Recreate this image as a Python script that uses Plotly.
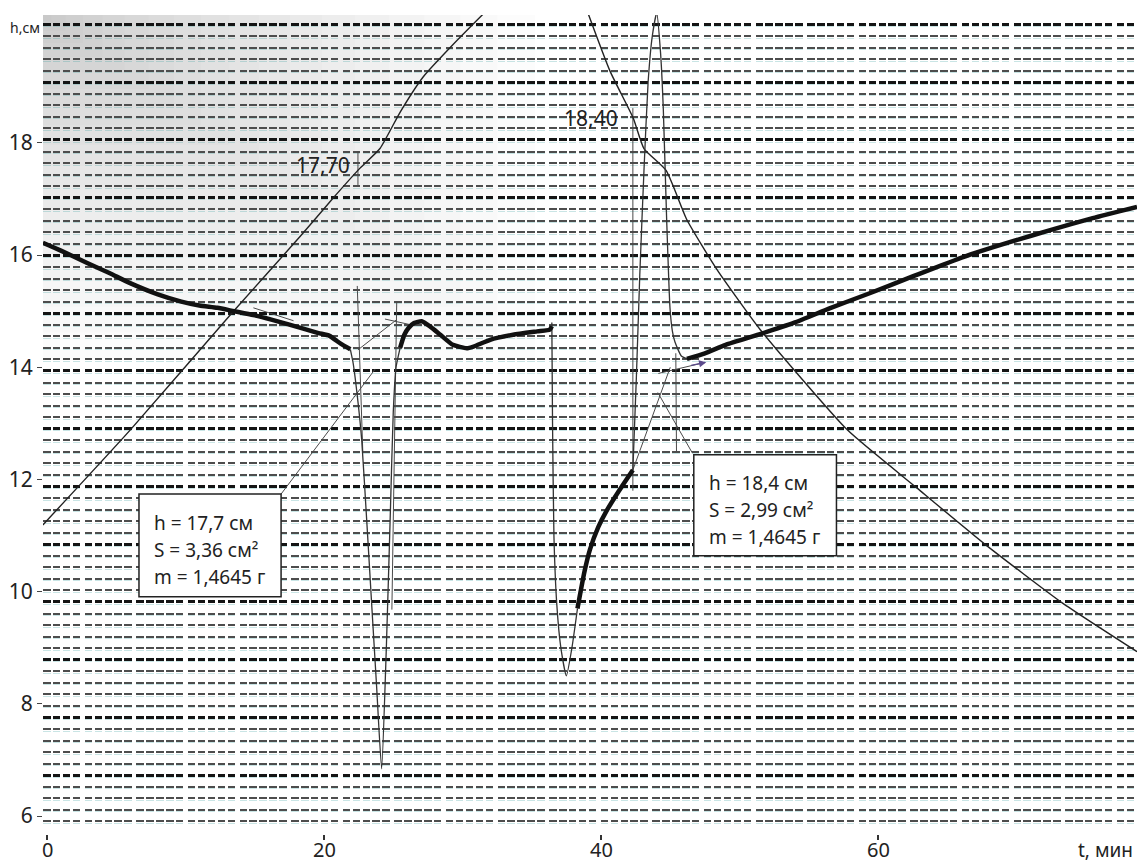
import plotly.graph_objects as go

# ---------------- data ----------------
# thick measured curve h(t), in four pieces
t_thick_1 = [-0.3, 1.0, 2.9, 4.5, 6.0, 8.0, 9.7, 11.0, 12.3, 13.5, 14.9, 16.2, 17.5, 18.5, 19.6, 20.4, 21.2, 21.9]
h_thick_1 = [16.22, 16.08, 15.86, 15.68, 15.50, 15.30, 15.17, 15.10, 15.06, 15.00, 14.93, 14.85, 14.76, 14.69, 14.61, 14.56, 14.42, 14.32]

t_thick_2 = [25.5, 25.8, 26.1, 26.5, 27.05, 27.65, 28.4, 29.3, 30.3, 30.8, 32.0, 33.65, 35.4, 36.3, 36.45]
h_thick_2 = [14.35, 14.58, 14.70, 14.79, 14.82, 14.73, 14.58, 14.40, 14.34, 14.37, 14.49, 14.58, 14.64, 14.67, 14.73]

t_thick_3 = [38.3, 38.8, 39.2, 39.8, 40.4, 41.3, 42.3]
h_thick_3 = [9.7, 10.35, 10.75, 11.15, 11.44, 11.80, 12.17]

t_thick_4 = [46.2, 47.5, 49.0, 51.6, 54.0, 56.5, 59.4, 62.5, 66.2, 69.5, 72.5, 75.5, 78.7]
h_thick_4 = [14.15, 14.25, 14.40, 14.60, 14.80, 15.05, 15.32, 15.62, 15.97, 16.23, 16.45, 16.66, 16.86]

# thin parts of the record (dips and spike)
t_dip_1 = [21.9, 22.1, 22.4, 22.72, 23.1, 23.44, 23.8, 24.16, 24.5, 24.8, 25.0, 25.2, 25.5]
h_dip_1 = [14.32, 14.08, 13.5, 12.71, 11.2, 9.78, 8.3, 6.84, 9.0, 11.5, 13.2, 14.0, 14.35]

t_dip_2 = [36.45, 36.5, 36.6, 36.8, 37.1, 37.5, 37.9, 38.3]
h_dip_2 = [14.80, 13.0, 11.0, 9.8, 9.0, 8.5, 9.0, 9.7]

t_spike = [42.3, 42.55, 42.8, 43.1, 43.4, 43.7, 44.02, 44.3, 44.5, 44.74, 44.98, 45.15, 45.34, 45.8, 46.2]
h_spike = [12.17, 13.8, 15.65, 17.5, 19.08, 19.9, 20.32, 19.6, 18.59, 16.63, 15.06, 14.65, 14.45, 14.2, 14.15]

# rising thin curve (reaches 17,70) and falling thin curve (reaches 18,40)
t_rise = [-0.3, 6.0, 13.4, 18.27, 20.6, 22.6, 24.04, 25.5, 27.17, 29.3, 31.5]
h_rise = [11.19, 12.88, 14.98, 16.33, 17.0, 17.55, 17.90, 18.55, 19.18, 19.75, 20.3]

t_fall = [39.08, 40.65, 42.33, 43.1, 44.7, 46.2, 48.35, 51.5, 57.8, 62.8, 67.8, 73.3, 78.7]
h_fall = [20.3, 19.28, 18.44, 17.9, 17.51, 16.63, 15.75, 14.67, 12.88, 11.85, 10.83, 9.80, 8.93]

# straight construction lines (pairs of end points)
guide_t = [[16.9, 23.7], [22.45, 25.25], [24.4, 26.4], [14.9, 17.8], [22.4, 22.8],
           [25.25, 24.9], [42.3, 42.3], [45.4, 45.45], [42.3, 45.0], [44.1, 46.6],
           [44.14, 47.4], [22.45, 22.45]]
guide_h = [[11.74, 13.97], [14.31, 14.85], [14.86, 14.75], [15.06, 14.83], [15.45, 12.5],
           [15.17, 9.68], [18.62, 11.8], [14.25, 12.5], [12.17, 14.0], [13.55, 12.47],
           [13.89, 14.08], [17.85, 17.25]]

x_ticks = [0, 20, 40, 60]
y_ticks = [6, 8, 10, 12, 14, 16, 18]

mark_labels = ["17,70", "18,40"]
mark_t = [19.9, 39.3]
mark_h = [17.6, 18.45]

box1_lines = ["h = 17,7 см", "S = 3,36 см²", "m = 1,4645 г"]
box2_lines = ["h = 18,4 см", "S = 2,99 см²", "m = 1,4645 г"]

# ---------------- figure ----------------
FONT = "Noto Sans"
DASH = "7.5px,2.4px,7.5px,2.4px,7.5px,2.4px,7.5px,4.5px,7.5px,2.4px"
GRID_RANGE = [-0.0173, 14.164]
SHIFT = 0.035

fig = go.Figure()

def line(x, y, width, color, shape="spline"):
    fig.add_trace(go.Scatter(x=x, y=y, mode="lines",
                             line=dict(width=width, color=color, shape=shape, smoothing=0.5),
                             hoverinfo="skip", showlegend=False))

# dummy traces so the paper-grid axes exist
fig.add_trace(go.Scatter(x=[], y=[], yaxis="y3", showlegend=False, hoverinfo="skip"))
fig.add_trace(go.Scatter(x=[], y=[], yaxis="y2", showlegend=False, hoverinfo="skip"))

# construction lines
gx, gy = [], []
for a, b in zip(guide_t, guide_h):
    gx += a + [None]
    gy += b + [None]
line(gx, gy, 1.0, "#4a4a4a", shape="linear")

line(t_rise, h_rise, 1.4, "#222222")
line(t_fall, h_fall, 1.4, "#222222")
line(t_dip_1, h_dip_1, 1.3, "#333333")
line(t_dip_2, h_dip_2, 1.3, "#333333")
line(t_spike, h_spike, 1.3, "#333333")
for tx, hy in [(t_thick_1, h_thick_1), (t_thick_2, h_thick_2), (t_thick_3, h_thick_3), (t_thick_4, h_thick_4)]:
    line(tx, hy, 4.5, "#111111")

shapes = []
# scanner shading in the upper-left corner (below the paper grid)
N = 18
for i in range(1, N + 1):
    f = (i / N) ** 1.4
    shapes.append(dict(type="rect", xref="paper", yref="paper", layer="below",
                       x0=0, x1=0.45 * f, y0=1 - 0.42 * f, y1=1,
                       fillcolor="rgba(0,0,0,0.0115)", line=dict(width=0)))
# annotation boxes
shapes.append(dict(type="rect", xref="x", yref="y", layer="above",
                   x0=6.64, x1=16.9, y0=9.91, y1=11.74,
                   fillcolor="white", line=dict(color="#222", width=1.5)))
shapes.append(dict(type="rect", xref="x", yref="y", layer="above",
                   x0=46.7, x1=57.0, y0=10.64, y1=12.44,
                   fillcolor="white", line=dict(color="#222", width=1.5)))

ann = []
for txt, tx, hy in zip(mark_labels, mark_t, mark_h):
    ann.append(dict(x=tx, y=hy, xref="x", yref="y", text=txt, showarrow=False,
                    font=dict(family=FONT, size=21, color="#222")))
for k, txt in enumerate(box1_lines):
    ann.append(dict(x=7.58, y=11.23 - 0.485 * k, xref="x", yref="y", text=txt, showarrow=False,
                    xanchor="left", font=dict(family=FONT, size=19, color="#222")))
for k, txt in enumerate(box2_lines):
    ann.append(dict(x=47.65, y=11.94 - 0.48 * k, xref="x", yref="y", text=txt, showarrow=False,
                    xanchor="left", font=dict(family=FONT, size=19, color="#222")))
ann.append(dict(x=47.6, y=14.09, ax=46.4, ay=14.03, xref="x", yref="y", axref="x", ayref="y",
                text="", showarrow=True, arrowhead=2, arrowsize=1.2, arrowwidth=1.2,
                arrowcolor="#5b4a8b"))
ann.append(dict(x=-0.032, y=0.985, xref="paper", yref="paper", text="h,см", showarrow=False,
                xanchor="left", yanchor="middle", font=dict(family=FONT, size=14, color="#222")))
ann.append(dict(x=0.998, y=-0.0195, xref="paper", yref="paper", text="t, мин", showarrow=False,
                xanchor="right", yanchor="middle", font=dict(family=FONT, size=19, color="#222")))
# x tick labels placed just under the axis
for v in x_ticks:
    ann.append(dict(x=v, y=-0.0195, xref="x", yref="paper", text=str(v), showarrow=False,
                    xanchor="center", yanchor="middle", font=dict(family=FONT, size=20, color="#222")))

fig.update_layout(
    width=1137, height=862,
    margin=dict(l=43, r=0, t=15, b=28, autoexpand=False),
    paper_bgcolor="white", plot_bgcolor="white",
    showlegend=False,
    shapes=shapes, annotations=ann,
    xaxis=dict(range=[-0.29, 78.7], tickvals=x_ticks, ticks="outside", ticklen=5, tickwidth=1.5,
               tickcolor="#333", showgrid=False, zeroline=False, showline=False, automargin=False,
               showticklabels=False),
    yaxis=dict(range=[5.68, 20.28], tickvals=y_ticks, ticks="outside", ticklen=5, tickwidth=1.3,
               tickcolor="#444", showgrid=False, zeroline=False, showline=False, automargin=False,
               tickfont=dict(family=FONT, size=21, color="#222")),
    yaxis2=dict(overlaying="y", range=GRID_RANGE, showticklabels=False, ticks="", automargin=False,
                showgrid=True, tick0=0, dtick=1, gridcolor="#141414", gridwidth=3.2, griddash=DASH,
                zeroline=False, showline=False,
                minor=dict(tick0=0, dtick=0.2, showgrid=True, gridcolor="#4d4d4d", gridwidth=1.7,
                           griddash=DASH)),
    yaxis3=dict(overlaying="y", range=[GRID_RANGE[0] + SHIFT, GRID_RANGE[1] + SHIFT], automargin=False,
                showticklabels=False, ticks="", showgrid=True, tick0=0, dtick=0.2,
                gridcolor="rgba(60,160,160,0.28)", gridwidth=1.3, griddash=DASH,
                zeroline=False, showline=False),
)

fig.write_html("out.html", config={"displayModeBar": False},
               post_script="document.body.style.margin='0px';")
